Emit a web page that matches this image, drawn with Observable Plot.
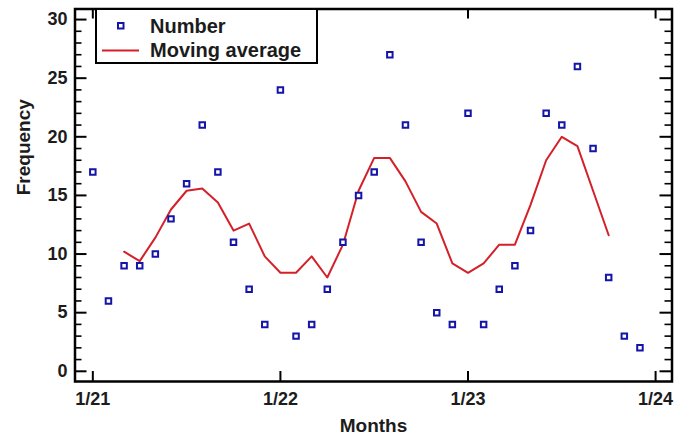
<!DOCTYPE html>
<html>
<head>
<meta charset="utf-8">
<script src="https://cdn.jsdelivr.net/npm/d3@7"></script>
<script src="https://cdn.jsdelivr.net/npm/@observablehq/plot@0.6"></script>
<style>
  html, body { margin: 0; padding: 0; background: #fff; }
  #wrap { position: relative; width: 691px; height: 436px; }
  #legend { position: absolute; left: 95px; top: 8px; }
</style>
</head>
<body>
<div id="wrap"></div>
<script>
// ---- data ----
const months = [
  "1/21","2/21","3/21","4/21","5/21","6/21","7/21","8/21","9/21","10/21","11/21","12/21",
  "1/22","2/22","3/22","4/22","5/22","6/22","7/22","8/22","9/22","10/22","11/22","12/22",
  "1/23","2/23","3/23","4/23","5/23","6/23","7/23","8/23","9/23","10/23","11/23","12/23"
];
const number = [17, 6, 9, 9, 10, 13, 16, 21, 17, 11, 7, 4,
                24, 3, 4, 7, 11, 15, 17, 27, 21, 11, 5, 4,
                22, 4, 7, 9, 12, 22, 21, 26, 19, 8, 3, 2];
const movingAverage = [null, null, 10.2, 9.4, 11.4, 13.8, 15.4, 15.6, 14.4, 12.0, 12.6, 9.8,
                       8.4, 8.4, 9.8, 8.0, 10.8, 15.4, 18.2, 18.2, 16.2, 13.6, 12.6, 9.2,
                       8.4, 9.2, 10.8, 10.8, 14.2, 18.0, 20.0, 19.2, 15.4, 11.6, null, null];
const xTickPositions = [0, 12, 24, 36];
const xTickLabels = ["1/21", "1/22", "1/23", "1/24"];
const yMajorTicks = [0, 5, 10, 15, 20, 25, 30];
const yMinorTicks = d3.range(0, 31).filter(v => v % 5 !== 0);

const rows = months.map((m, i) => ({i, month: m, number: number[i], ma: movingAverage[i]}));
const maRows = rows.filter(d => d.ma != null);
const xTicks = xTickPositions.map((p, k) => ({p, label: xTickLabels[k]}));

// ---- layout ----
const W = 691, H = 436;
const mL = 74.5, mR = 19.5, mT = 8.5, mB = 55;
const fw = W - mL - mR, fh = H - mT - mB;
const font = "'Liberation Sans', Arial, Helvetica, sans-serif";
const blue = "#1414a8", red = "#d42028", ink = "#1c1c1c";

const chart = Plot.plot({
  width: W, height: H,
  marginLeft: mL, marginRight: mR, marginTop: mT, marginBottom: mB,
  style: {fontFamily: font, background: "white", overflow: "visible"},
  x: {domain: [-1.14, 37.05], axis: null},
  y: {domain: [-0.87, 30.9], axis: null},
  marks: [
    // inward ticks
    Plot.tickY(yMajorTicks, {y: d => d, insetRight: fw - 12, stroke: "black", strokeWidth: 2}),
    Plot.tickY(yMajorTicks, {y: d => d, insetLeft: fw - 12, stroke: "black", strokeWidth: 2}),
    Plot.tickY(yMinorTicks, {y: d => d, insetRight: fw - 7, stroke: "black", strokeWidth: 1.6}),
    Plot.tickY(yMinorTicks, {y: d => d, insetLeft: fw - 7, stroke: "black", strokeWidth: 1.6}),
    Plot.tickX(xTickPositions, {x: d => d, insetBottom: fh - 10, stroke: "black", strokeWidth: 2}),
    Plot.tickX(xTickPositions, {x: d => d, insetTop: fh - 10, stroke: "black", strokeWidth: 2}),
    // tick labels
    Plot.text(yMajorTicks, {y: d => d, text: d => String(d), frameAnchor: "left", dx: -7.5,
      textAnchor: "end", lineAnchor: "middle", fontSize: 18, fontWeight: "bold", fill: ink}),
    Plot.text(xTicks, {x: "p", text: "label", frameAnchor: "bottom", dy: 17.5,
      lineAnchor: "middle", fontSize: 18, fontWeight: "bold", fill: ink}),
    // axis titles
    Plot.text(["Months"], {text: d => d, frameAnchor: "bottom", dy: 44, lineAnchor: "middle",
      fontSize: 19, fontWeight: "bold", fill: ink}),
    Plot.text(["Frequency"], {text: d => d, frameAnchor: "left", dx: -51, rotate: -90,
      lineAnchor: "middle", fontSize: 19, fontWeight: "bold", fill: ink}),
    // data
    Plot.line(maRows, {x: "i", y: "ma", stroke: red, strokeWidth: 2}),
    Plot.dot(rows, {x: "i", y: "number", symbol: "square", r: 3.1, stroke: blue,
      strokeWidth: 2, fill: "white"}),
    Plot.frame({stroke: "black", strokeWidth: 2.5})
  ]
});

const wrap = document.getElementById("wrap");
wrap.appendChild(chart);

// legend overlay
const ns = "http://www.w3.org/2000/svg";
const leg = document.createElementNS(ns, "svg");
leg.setAttribute("id", "legend");
leg.setAttribute("width", 224);
leg.setAttribute("height", 58);
leg.innerHTML = `
  <rect x="1" y="1" width="221" height="54" fill="white" stroke="black" stroke-width="2"/>
  <rect x="23" y="15" width="5.5" height="5.5" fill="white" stroke="${blue}" stroke-width="2"/>
  <line x1="7" x2="44" y1="42.5" y2="42.5" stroke="${red}" stroke-width="2"/>
  <text x="55" y="25" font-family="${font.replace(/"/g, "'")}" font-size="20" font-weight="bold" fill="${ink}">Number</text>
  <text x="55" y="48.5" font-family="${font.replace(/"/g, "'")}" font-size="20" font-weight="bold" fill="${ink}">Moving average</text>
`;
wrap.appendChild(leg);
</script>
</body>
</html>
